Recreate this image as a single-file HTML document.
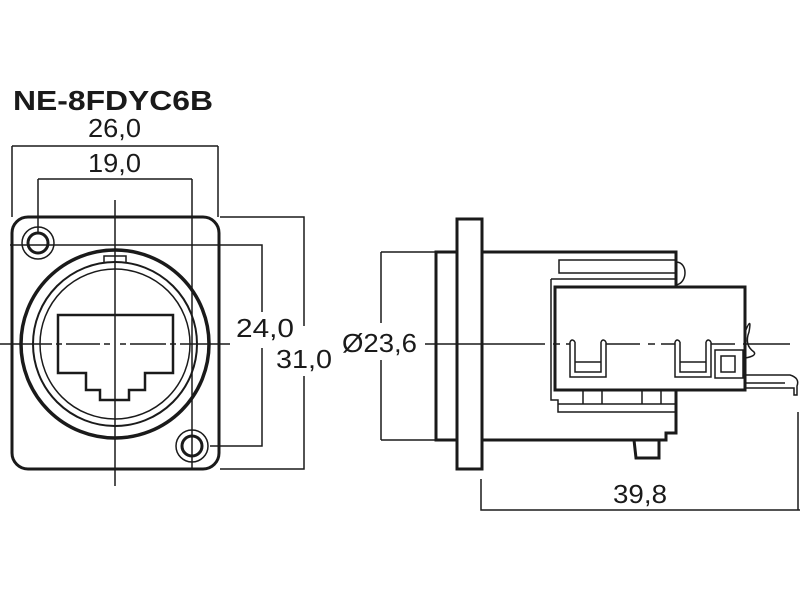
<!DOCTYPE html>
<html><head><style>html,body{margin:0;padding:0;background:#fff}svg{display:block}</style></head><body>
<svg width="800" height="600" viewBox="0 0 800 600" xmlns="http://www.w3.org/2000/svg" font-family="Liberation Sans, DejaVu Sans, sans-serif" fill="none" stroke="#1a1a1a">
<rect width="800" height="600" fill="#fff" stroke="none"/>
<text x="13" y="110" font-size="28" font-weight="bold" fill="#1a1a1a" stroke="none" textLength="200" lengthAdjust="spacingAndGlyphs">NE-8FDYC6B</text>
<g fill="#1a1a1a" stroke="none" font-size="26">
<text x="88" y="137" textLength="53" lengthAdjust="spacingAndGlyphs">26,0</text>
<text x="88" y="172" textLength="53" lengthAdjust="spacingAndGlyphs">19,0</text>
<text x="236" y="337" textLength="58" lengthAdjust="spacingAndGlyphs">24,0</text>
<text x="276" y="368" textLength="56" lengthAdjust="spacingAndGlyphs">31,0</text>
<text x="342" y="352" textLength="75" lengthAdjust="spacingAndGlyphs">Ø23,6</text>
<text x="613" y="503" textLength="54" lengthAdjust="spacingAndGlyphs">39,8</text>
</g>
<!-- left view dims -->
<g stroke-width="1.5">
<path d="M12 146H218M12 146V217M218 146V217"/>
<path d="M38 179H192M38 179V232M192 179V200"/>
<path d="M220 217H304V326M304 376V469H220"/>
<path d="M210 446H262V348M262 312V245H10"/>
<path d="M115 200V486M192 200V470"/>
<path d="M0 344H52M56 344H62M66 344H100M104 344H110M120 344H126M130 344H166M170 344H176M180 344H230" />
</g>
<!-- plate -->
<rect x="12" y="217" width="207" height="252" rx="16" stroke-width="3"/>
<circle cx="38" cy="243" r="16" stroke-width="1.5"/>
<circle cx="38" cy="243" r="10" stroke-width="3"/>
<circle cx="192" cy="446" r="16" stroke-width="1.5"/>
<circle cx="192" cy="446" r="10" stroke-width="3"/>
<circle cx="115" cy="344" r="94" stroke-width="3.5"/>
<circle cx="115" cy="344" r="82" stroke-width="2"/>
<circle cx="115" cy="344" r="75" stroke-width="1.5"/>
<path d="M104 262V256H126V262" stroke-width="1.5"/>
<path d="M58 315H173V373H145V390H129V400H100V390H86V373H58Z" stroke-width="2.5"/>
<!-- right view dims -->
<g stroke-width="1.5">
<path d="M381 252H436M381 440H436M381 252V323M381 360V440"/>
<path d="M481 479V510H800M798 412V510"/>
</g>
<!-- right view body -->
<g stroke-width="3">
<rect x="457" y="219" width="25" height="250"/>
<path d="M457 252H436V440H457"/>
<path d="M482 252H676V287M676 390V433H666V440H482"/>
<path d="M634 440L636 458H659V440"/>
</g>
<g stroke-width="1.5">
<rect x="559" y="260" width="117" height="13"/>
<path d="M676 262C688 262 688 283 676 285"/>
<path d="M551 279H676M551 279V400H558V412H676M558 404H676"/>
<path d="M583 390V404M602 390V404M642 390V404M661 390V404"/>
</g>
<rect x="555" y="287" width="190" height="103" stroke-width="3" fill="#fff"/>
<g stroke-width="1.5">
<path d="M425 344H545M553 344H560M566 344H640M648 344H655M661 344H735M743 344H790"/>
<path d="M570 342V377H606V342M575 342V372H601V342M570 342Q572 338 575 342M601 342Q603 338 606 342M575 362H601" fill="#fff"/>
<path d="M675 342V377H711V342M680 342V372H706V342M675 342Q677 338 680 342M706 342Q708 338 711 342M680 362H706" fill="#fff"/>
<rect x="715" y="350" width="28" height="28" fill="#fff"/><rect x="721" y="356" width="14" height="16"/>
<path d="M745 332Q752 315 749 332Q744 345 754 352Q757 356 745 358"/>
<path d="M746 375H790Q800 378 797 386V395H794V388H746M746 383H785"/>
</g>
</svg>
</body></html>
